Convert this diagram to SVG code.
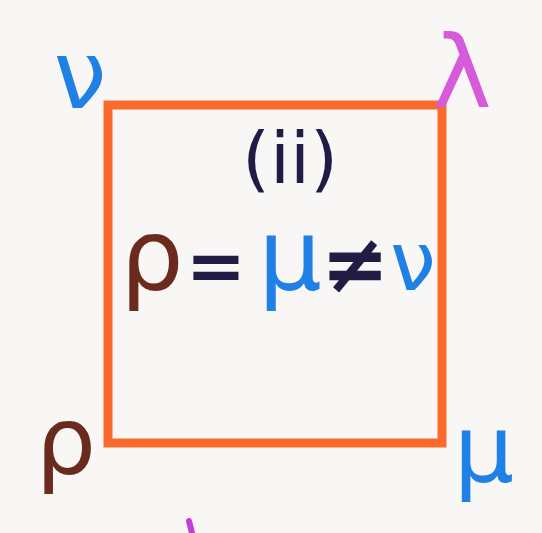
<svg xmlns="http://www.w3.org/2000/svg" width="542" height="533" viewBox="0 0 542 533">
  <style>
    .t { font-family: "DejaVu Sans", "Noto Sans", sans-serif; text-anchor: middle; }
    .blue { fill: #1F80E6; }
    .brown { fill: #6B2A1E; }
    .navy { fill: #221B44; }
    .pink { fill: #D65BDA; }
  </style>
  <rect x="0" y="0" width="542" height="533" fill="#F8F7F5"/>
  <g id="square">
    <rect x="108" y="105" width="334" height="338" fill="none" stroke="#F96A2C" stroke-width="9" stroke-linejoin="miter"/>
  </g>
  <g id="label-nu-corner">
    <text class="t blue" x="80" y="108" font-size="95">ν</text>
  </g>
  <g id="label-lambda-corner">
    <text class="t pink" x="462" y="107" font-size="100">λ</text>
  </g>
  <g id="label-rho-corner">
    <text class="t brown" x="66" y="474" font-size="95">ρ</text>
  </g>
  <g id="label-mu-corner">
    <text class="t blue" x="484" y="482" font-size="95">μ</text>
  </g>
  <g id="title">
    <text class="t navy" x="290" y="183" font-size="72">(ii)</text>
  </g>
  <g id="equation">
    <text class="t brown" x="152" y="290" font-size="100">ρ</text>
    <text class="t navy" x="216" y="290" font-size="72" font-weight="bold">=</text>
    <text class="t blue" x="290" y="290" font-size="100">μ</text>
    <text class="t navy" x="355" y="292" font-size="82" font-weight="bold">≠</text>
    <text class="t blue" x="413" y="290" font-size="82">ν</text>
  </g>
  <g id="edge-mark">
    <path d="M189 521 L192 533" stroke="#C040D8" stroke-width="6" stroke-linecap="round" fill="none"/>
  </g>
</svg>
